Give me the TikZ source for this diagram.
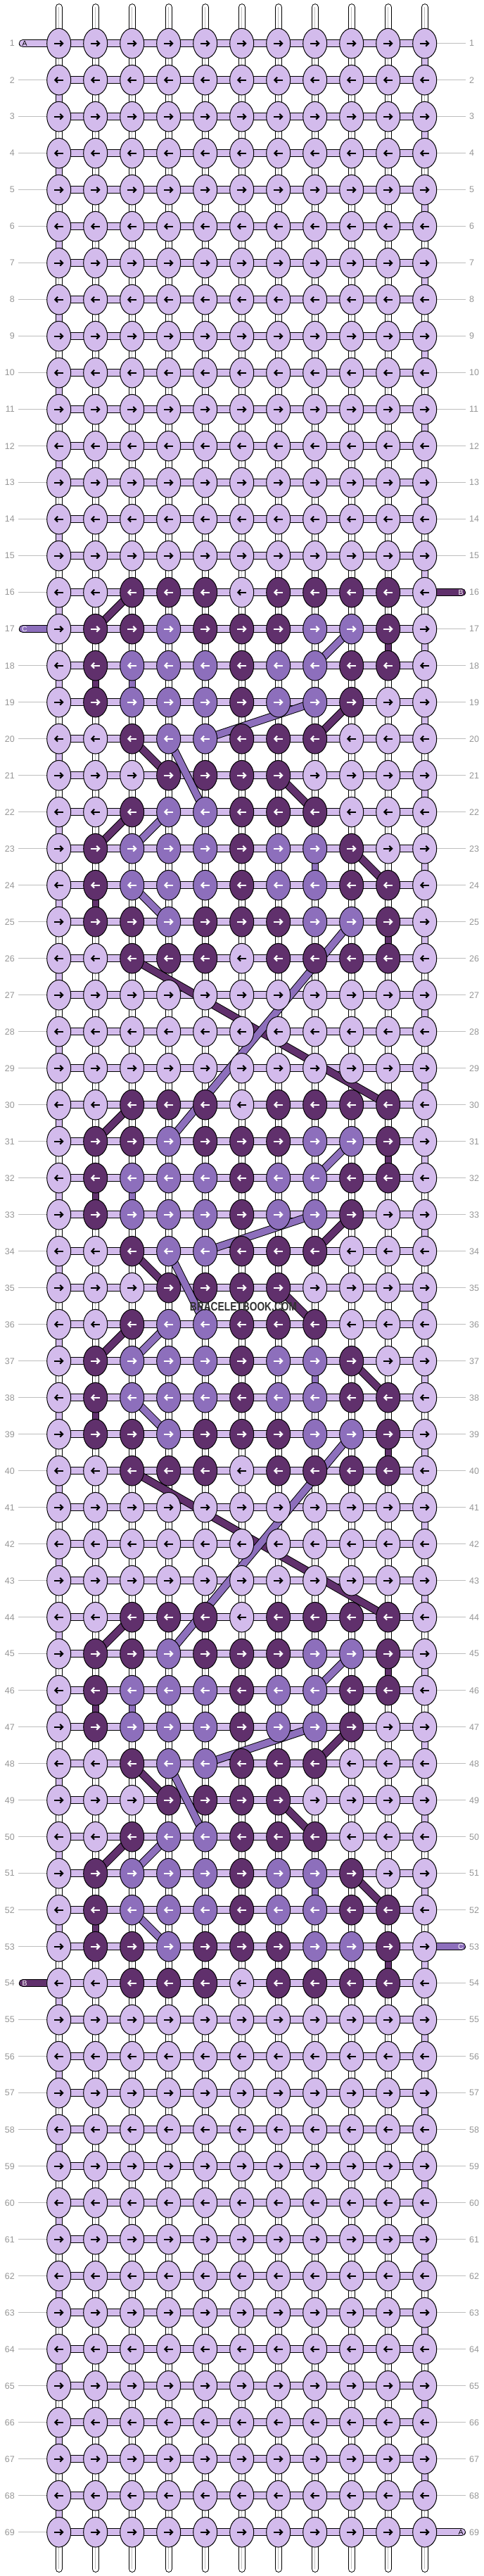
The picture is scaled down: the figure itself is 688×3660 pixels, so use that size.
\documentclass[tikz,border=0pt]{standalone}
\usepackage{fontspec}
\setmainfont{Liberation Sans}
\usetikzlibrary{shapes.geometric}
\definecolor{lightc}{RGB}{211,187,236}
\definecolor{medc}{RGB}{141,111,188}
\definecolor{darkc}{RGB}{96,48,108}
\definecolor{labgrey}{RGB}{150,150,150}
\definecolor{linegrey}{RGB}{190,190,190}
\definecolor{strgrey}{RGB}{190,190,190}
\definecolor{wmgrey}{RGB}{50,50,50}
\pgfdeclarelayer{strings}
\pgfdeclarelayer{bands}
\pgfdeclarelayer{diags}
\pgfsetlayers{strings,bands,diags,main}
\begin{document}
\begin{tikzpicture}[x=1bp,y=-1bp,
  knot/.style={ellipse, draw=black, line width=1bp, minimum width=34bp, minimum height=42.6bp, inner sep=0pt},
  kL/.style={fill=lightc}, kD/.style={fill=darkc}, kM/.style={fill=medc},
  aL/.style={draw=black}, aD/.style={draw=white}, aM/.style={draw=white},
  arrowln/.style={line width=2.1bp, line cap=butt, line join=miter},
  strand/.style={draw=black, line width=1bp, double distance=9.3bp, line cap=butt},
  vseg/.style={draw=black, line width=1bp, double distance=8.3bp, line cap=butt},
  vstring/.style={draw=black, line width=1bp, double=white, double distance=8.3bp, line cap=round},
  stub/.style={draw=black, line width=1bp, double distance=9.3bp, line cap=round},
  rowline/.style={draw=linegrey, line width=0.9bp},
  rownum/.style={font=\fontsize{12.5}{12.5}\selectfont, text=labgrey, inner sep=0pt},
  stublab/.style={font=\fontsize{10.5}{10.5}\selectfont, inner sep=0pt},
]
\useasboundingbox (0,0) rectangle (688,3660);

% design cells (pattern offset p = row-16 mod 14)
\foreach \p/\cl in {0/{3,4,5,7,8,9,10},1/{2,3,5,6,7,10},2/{2,6,9,10},3/{2,6,9},4/{3,6,7,8},5/{4,5,6,7},6/{3,6,7,8},7/{2,6,9},8/{2,6,9,10},9/{2,3,5,6,7,10},10/{3,4,5,7,8,9,10}}
  {\foreach \c in \cl {\expandafter\xdef\csname kc@\p @\c\endcsname{D}}}
\foreach \p/\cl in {1/{4,8,9},2/{3,4,5,7,8},3/{3,4,5,7,8},4/{4,5},6/{4,5},7/{3,4,5,7,8},8/{3,4,5,7,8},9/{4,8,9}}
  {\foreach \c in \cl {\expandafter\xdef\csname kc@\p @\c\endcsname{M}}}

% knots
\foreach \r in {1,...,69} {
  \pgfmathtruncatemacro\pp{ifthenelse(and(\r>=16,\r<=54),mod(\r-16,14),99)}
  \pgfmathsetmacro\yy{61.7+52*(\r-1)}
  \pgfmathtruncatemacro\dir{ifthenelse(mod(\r,2)==1,1,-1)}
  \foreach \c in {1,...,11} {
    \pgfmathsetmacro\xx{83.7+52*(\c-1)}
    \def\kc{L}%
    \ifcsname kc@\pp @\c\endcsname\edef\kc{\csname kc@\pp @\c\endcsname}\fi
    \node[knot,k\kc] (k-\r-\c) at (\xx,\yy) {};
    \draw[arrowln,a\kc] ({\xx-6.4*(\dir)},\yy) -- ({\xx+5*(\dir)},\yy);
    \draw[arrowln,a\kc] ({\xx+1.6*(\dir)},{\yy-3.9}) -- ({\xx+5.4*(\dir)},\yy) -- ({\xx+1.6*(\dir)},{\yy+3.9});
  }
}

% base strings, row lines
\begin{pgfonlayer}{strings}
  \fill[white] (0,0) rectangle (688,3660);
  \foreach \c in {1,...,11} {
    \pgfmathsetmacro\xx{83.7+52*(\c-1)}
    \coordinate (st-\c) at (\xx,10.3);
    \coordinate (sb-\c) at (\xx,3649.8);
    \draw[vstring] (st-\c) -- (sb-\c);
    \draw[strgrey, line width=0.8bp] (st-\c) -- (sb-\c);
  }
  \foreach \r in {1,...,69} {
    \pgfmathsetmacro\yy{61.7+52*(\r-1)}
    \coordinate (ll-\r) at (26,\yy);
    \coordinate (lr-\r) at (662,\yy);
    \ifnum\r=1 \else\ifnum\r=17 \else\ifnum\r=54 \else
      \draw[rowline] (ll-\r) -- (k-\r-1.center);\fi\fi\fi
    \ifnum\r=16 \else\ifnum\r=53 \else\ifnum\r=69 \else
      \draw[rowline] (k-\r-11.center) -- (lr-\r);\fi\fi\fi
  }
\end{pgfonlayer}

% horizontal threads, vertical colored segments, stubs
\begin{pgfonlayer}{bands}
  \foreach \r in {1,...,69} {
    \draw[strand,double=lightc] (k-\r-1.center) -- (k-\r-11.center);
  }
  \foreach \r in {1,...,68} {
    \pgfmathtruncatemacro\rn{\r+1}
    \pgfmathtruncatemacro\ec{ifthenelse(mod(\r,2)==1,11,1)}
    \draw[vseg,double=lightc] (k-\r-\ec.center) -- (k-\rn-\ec.center);
  }
  \foreach \k in {0,1,2} {
    \pgfmathtruncatemacro\R{16+14*\k}
    \foreach \da/\cc/\col in {1/10/darkc,2/2/darkc,2/3/medc,7/8/medc,8/2/darkc,9/10/darkc} {
      \pgfmathtruncatemacro\ra{\R+\da}
      \pgfmathtruncatemacro\rb{\R+\da+1}
      \draw[vseg,double=\col] (k-\ra-\cc.center) -- (k-\rb-\cc.center);
    }
  }
  \foreach \r/\col/\lab/\lc in {1/lightc/A/black,17/medc/C/white,54/darkc/B/white} {
    \pgfmathsetmacro\yy{61.7+52*(\r-1)}
    \coordinate (sl-\r) at (32.4,\yy);
    \draw[stub,double=\col] (sl-\r) -- (k-\r-1.center);
    \node[stublab,text=\lc] (sla-\r) at (35,\yy) {\lab};
  }
  \foreach \r/\col/\lab/\lc in {16/darkc/B/white,53/medc/C/white,69/lightc/A/black} {
    \pgfmathsetmacro\yy{61.7+52*(\r-1)}
    \coordinate (sr-\r) at (656.4,\yy);
    \draw[stub,double=\col] (k-\r-11.center) -- (sr-\r);
    \node[stublab,text=\lc] (sra-\r) at (655,\yy) {\lab};
  }
\end{pgfonlayer}

% diagonal threads
\begin{pgfonlayer}{diags}
  \foreach \k in {0,1,2} {
    \pgfmathtruncatemacro\R{16+14*\k}
    \foreach \da/\ca/\db/\cb/\col in {0/3/1/2/darkc,1/9/2/8/medc,3/9/4/8/darkc,3/8/4/5/medc,4/3/5/4/darkc,4/4/6/5/medc,5/7/6/8/darkc,6/3/7/2/darkc,6/4/7/3/medc,7/9/8/10/darkc,8/3/9/4/medc} {
      \pgfmathtruncatemacro\ra{\R+\da}
      \pgfmathtruncatemacro\rb{\R+\db}
      \draw[strand,double=\col] (k-\ra-\ca.center) -- (k-\rb-\cb.center);
    }
  }
  \draw[strand,double=darkc] (k-26-3.center) -- (k-30-10.center);
  \draw[strand,double=medc] (k-25-9.center) -- (k-31-4.center);
  \draw[strand,double=darkc] (k-40-3.center) -- (k-44-10.center);
  \draw[strand,double=medc] (k-39-9.center) -- (k-45-4.center);
\end{pgfonlayer}

% row numbers
\foreach \r in {1,...,69} {
  \pgfmathsetmacro\yy{61.7+52*(\r-1)}
  \node[rownum,anchor=east] (nl-\r) at (21,\yy) {\r};
  \node[rownum,anchor=west] (nr-\r) at (667,\yy) {\r};
}

% watermark
\node[font=\fontsize{17.5}{17.5}\selectfont\bfseries, text=wmgrey, inner sep=0pt] (wm) at (346,1856) {\scalebox{0.79}[1]{BRACELETBOOK.COM}};
\end{tikzpicture}
\end{document}
